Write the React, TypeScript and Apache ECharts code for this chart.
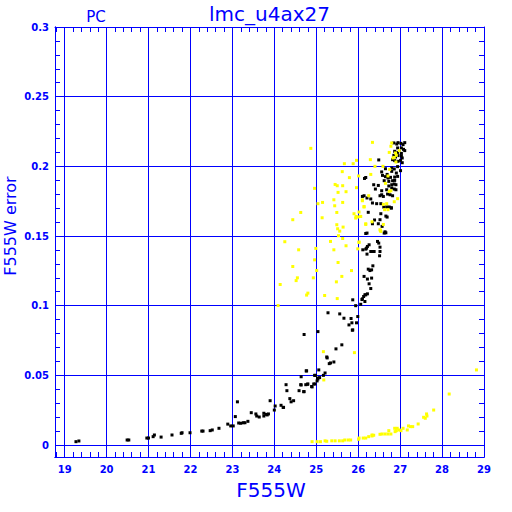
import React, { useEffect, useRef } from "react";
import * as echarts from "echarts";

const xTickLabels = [19, 20, 21, 22, 23, 24, 25, 26, 27, 28, 29];
const yTickLabels = [0, 0.05, 0.1, 0.15, 0.2, 0.25, 0.3];
const xRange = [18.77, 29];
const yRange = [-0.0086, 0.3];

const blackTail = [
  [19.27, 0.0024], [19.34, 0.0029], [20.49, 0.0036], [20.53, 0.0036], [20.96, 0.005], [21.0, 0.005],
  [21.11, 0.006], [21.14, 0.0072], [21.3, 0.0057], [21.56, 0.0072], [21.78, 0.0084], [21.8, 0.0088],
  [21.99, 0.0088], [22.27, 0.01], [22.3, 0.01], [22.47, 0.0103], [22.52, 0.0108], [22.68, 0.012],
  [22.89, 0.015], [22.96, 0.0137], [23.02, 0.0137], [23.07, 0.0204], [23.12, 0.031], [23.15, 0.0158],
  [23.2, 0.0156], [23.26, 0.016], [23.3, 0.016], [23.37, 0.017], [23.45, 0.0232], [23.56, 0.0223],
  [23.58, 0.0208], [23.64, 0.0201], [23.75, 0.0228], [23.75, 0.0208], [23.8, 0.022], [23.83, 0.0216],
  [23.86, 0.0223], [23.9, 0.0318], [24.0, 0.0251], [24.02, 0.028], [24.16, 0.0285], [24.21, 0.027],
  [24.22, 0.027], [24.28, 0.0433], [24.3, 0.039], [24.37, 0.0333], [24.4, 0.031], [24.46, 0.0318],
  [24.59, 0.039], [24.63, 0.0433], [24.64, 0.049], [24.7, 0.0383], [24.76, 0.0532], [24.75, 0.0433],
  [24.8, 0.0438], [24.89, 0.042], [24.94, 0.0438], [24.96, 0.05],
];

const blackRise = [
  [24.97, 0.0438], [24.79, 0.0436], [24.9, 0.0417], [24.64, 0.0431], [24.71, 0.0383],
  [25.03, 0.048], [25.04, 0.0474], [25.08, 0.0484], [25.02, 0.046], [25.06, 0.0539], [25.21, 0.0517],
  [25.17, 0.05], [24.98, 0.05], [24.77, 0.0532], [25.34, 0.0589], [25.31, 0.0584], [25.42, 0.0596],
  [25.25, 0.0632], [25.26, 0.0625], [25.47, 0.069], [25.61, 0.0719], [24.71, 0.0793], [25.04, 0.0814],
  [25.78, 0.0862], [25.85, 0.0877], [25.96, 0.0877], [25.87, 0.0826], [25.86, 0.0824], [25.28, 0.0949],
  [25.56, 0.0941], [25.66, 0.091], [25.83, 0.0908], [25.99, 0.0922], [25.87, 0.1042], [25.94, 0.1],
  [26.06, 0.101], [26.16, 0.103], [26.16, 0.1078], [26.18, 0.1078], [26.13, 0.1066], [26.09, 0.1044],
  [26.22, 0.1085], [26.1, 0.1049],
];

const blackTop = [
  [26.3, 0.1123], [26.26, 0.1157], [26.14, 0.121], [26.22, 0.1191], [26.32, 0.1198], [26.35, 0.1286],
  [26.28, 0.1252], [26.32, 0.1257], [26.24, 0.1262], [26.51, 0.1358], [26.21, 0.137], [26.3, 0.1389],
  [26.36, 0.1389], [26.38, 0.1389], [26.52, 0.1389], [26.11, 0.1401], [26.18, 0.1406], [26.2, 0.1413],
  [26.52, 0.142], [26.26, 0.1437], [26.22, 0.1425], [26.46, 0.1461], [26.49, 0.1449], [26.18, 0.1518],
  [26.21, 0.1521], [26.64, 0.153], [26.66, 0.1523], [26.62, 0.1521], [26.57, 0.1569], [26.34, 0.1588],
  [26.48, 0.1588], [26.39, 0.1615], [26.52, 0.1617], [26.66, 0.1643], [26.69, 0.1636], [26.54, 0.166],
  [26.24, 0.167], [26.61, 0.1708], [26.68, 0.1708], [26.74, 0.1708], [26.79, 0.1703], [26.44, 0.1732],
  [26.54, 0.1732], [26.34, 0.1737], [26.1, 0.1784], [26.14, 0.1789], [26.21, 0.1773], [26.3, 0.1766],
  [26.52, 0.1789], [26.56, 0.1796], [26.6, 0.1784], [26.7, 0.1801], [26.76, 0.1796], [26.82, 0.1789],
  [26.41, 0.1837], [26.68, 0.1832], [26.56, 0.1825], [26.8, 0.1845], [26.86, 0.1837], [26.9, 0.1832],
  [26.48, 0.1863], [26.73, 0.1859], [26.8, 0.1868], [26.86, 0.1873], [26.9, 0.1868], [26.37, 0.1868],
  [26.62, 0.1897], [26.73, 0.1892], [26.82, 0.1897], [26.87, 0.1899], [26.15, 0.1913], [26.18, 0.192],
  [26.65, 0.1926], [26.71, 0.1916], [26.77, 0.1921], [26.87, 0.1923], [26.94, 0.1928], [26.56, 0.196],
  [26.58, 0.1935], [26.69, 0.1942], [26.8, 0.1964], [26.91, 0.1952], [26.65, 0.1983], [26.8, 0.1988],
  [26.86, 0.1981], [26.94, 0.1998], [27.01, 0.1969], [26.49, 0.2046], [26.82, 0.2048], [26.87, 0.2041],
  [26.95, 0.2036], [27.01, 0.2043], [27.05, 0.2026], [26.85, 0.2079], [26.89, 0.2067], [26.95, 0.2077],
  [27.03, 0.2074], [27.05, 0.206], [26.87, 0.2108], [26.94, 0.21], [27.03, 0.2093], [26.94, 0.2132],
  [27.03, 0.2132], [27.08, 0.2122], [27.11, 0.2113], [26.85, 0.2168], [26.92, 0.216], [26.95, 0.217],
  [27.02, 0.2165], [27.07, 0.2156], [27.11, 0.217], [26.79, 0.17],
];

const yellowLow = [
  [24.9, 0.0024], [25.02, 0.0024], [25.1, 0.0024], [25.21, 0.003], [25.25, 0.0027], [25.37, 0.003],
  [25.45, 0.003], [25.55, 0.003], [25.63, 0.003], [25.68, 0.0036], [25.76, 0.0036], [25.82, 0.0036],
  [26.01, 0.0041], [26.02, 0.005], [26.12, 0.005], [26.18, 0.005], [26.25, 0.006], [26.33, 0.0065],
  [26.37, 0.007], [26.33, 0.0072], [26.52, 0.0077], [26.57, 0.0079], [26.64, 0.0079], [26.71, 0.0079],
  [26.78, 0.0079], [26.73, 0.0103], [26.88, 0.0096], [26.91, 0.0103], [26.87, 0.012], [26.93, 0.012],
  [26.98, 0.0108], [27.02, 0.0103], [27.07, 0.012], [27.17, 0.0108], [27.2, 0.0137], [27.25, 0.0132],
  [27.3, 0.0132], [27.43, 0.0151], [27.56, 0.0199], [27.6, 0.0192], [27.64, 0.0208], [27.63, 0.0223],
  [27.8, 0.0251], [28.17, 0.0366], [28.82, 0.0539], [25.18, 0.0467], [25.17, 0.067], [25.91, 0.0663],
];

const yellowCloud = [
  [24.87, 0.2129], [26.34, 0.2172], [25.67, 0.2019], [25.88, 0.2019], [25.96, 0.2043], [26.29, 0.2048],
  [25.62, 0.1962], [25.79, 0.1919], [26.01, 0.1931], [26.3, 0.1942], [26.4, 0.2], [26.59, 0.2],
  [24.96, 0.1842], [25.45, 0.187], [25.5, 0.1861], [25.63, 0.1861], [25.52, 0.1813], [25.71, 0.1818],
  [25.96, 0.1847], [25.04, 0.1732], [25.15, 0.1741], [25.42, 0.176], [25.63, 0.1741], [25.44, 0.1717],
  [26.1, 0.176], [26.25, 0.1789], [24.63, 0.1669], [24.44, 0.1617], [25.49, 0.1669], [25.14, 0.1631],
  [25.9, 0.166], [25.99, 0.1636], [26.05, 0.1641], [25.94, 0.1629], [26.14, 0.1708], [26.63, 0.1689],
  [26.71, 0.1689], [26.86, 0.1746], [25.49, 0.1581], [25.64, 0.1564], [25.51, 0.1552], [26.18, 0.1583],
  [26.6, 0.1583], [26.53, 0.154], [25.56, 0.1535], [25.53, 0.1502], [25.63, 0.1482], [26.02, 0.1454],
  [25.34, 0.1461], [25.42, 0.1401], [25.71, 0.143], [24.99, 0.1411], [24.25, 0.1459], [24.58, 0.1401],
  [24.96, 0.1329], [24.44, 0.1281], [25.01, 0.1252], [25.52, 0.131], [25.84, 0.1252], [25.61, 0.121],
  [25.48, 0.1171], [24.55, 0.12], [24.52, 0.118], [24.93, 0.12], [24.14, 0.1152], [24.8, 0.109],
  [24.77, 0.1076], [25.2, 0.1073], [25.5, 0.1051], [24.09, 0.1001], [26.8, 0.2168], [26.78, 0.2144],
  [26.74, 0.21], [26.89, 0.2096], [26.91, 0.2079], [26.98, 0.2113], [26.83, 0.206], [26.86, 0.2064],
  [26.9, 0.2031], [26.71, 0.1931], [26.75, 0.1978], [26.65, 0.1878], [26.74, 0.182], [26.78, 0.1825],
  [26.94, 0.1768], [26.1, 0.1753], [26.14, 0.1712], [26.02, 0.1672], [26.06, 0.164], [25.95, 0.164],
  [26.6, 0.1727], [26.68, 0.1732], [26.18, 0.1588], [26.33, 0.1602], [26.52, 0.1545], [26.54, 0.1533],
  [26.02, 0.1457], [25.99, 0.1408],
];

const BLUE = "#0000ff";
const FONT = '"DejaVu Sans", sans-serif';

const xMinor: number[] = [];
for (let i = 0; i <= 51; i++) xMinor.push(+(18.8 + i * 0.2).toFixed(1));
const yMinor: number[] = [];
for (let i = 0; i <= 30; i++) yMinor.push(+(i / 100).toFixed(2));

export default function App() {
  const ref = useRef<HTMLDivElement>(null);
  useEffect(() => {
    const chart = echarts.init(ref.current!, null, { renderer: "svg" });
    const line = { show: true, onZero: false, lineStyle: { color: BLUE, width: 1 } };
    const minorX = (pos: string) => ({
      type: "value", min: xRange[0], max: xRange[1], position: pos, gridIndex: 0,
      axisLine: line,
      axisTick: { show: true, inside: true, length: 5, customValues: xMinor, lineStyle: { color: BLUE } },
      axisLabel: { show: false }, splitLine: { show: false },
    });
    const minorY = (pos: string) => ({
      type: "value", min: yRange[0], max: yRange[1], position: pos, gridIndex: 0,
      axisLine: line,
      axisTick: { show: true, inside: true, length: 5, customValues: yMinor, lineStyle: { color: BLUE } },
      axisLabel: { show: false }, splitLine: { show: false },
    });
    const dot = (color: string) => ({ color, opacity: 1 });
    chart.setOption({
      animation: false,
      grid: { left: 55, right: 28, top: 27, bottom: 55, containLabel: false },
      xAxis: [
        {
          type: "value", min: xRange[0], max: xRange[1], position: "bottom",
          axisLine: line,
          axisTick: { show: false, customValues: xTickLabels },
          axisLabel: {
            customValues: xTickLabels, color: BLUE, fontFamily: FONT, fontSize: 10,
            fontWeight: "bold", margin: 7,
          },
          splitLine: { show: true, lineStyle: { color: BLUE, width: 1 } },
        },
        minorX("bottom"),
        minorX("top"),
      ],
      yAxis: [
        {
          type: "value", min: yRange[0], max: yRange[1], position: "left",
          axisLine: line,
          axisTick: { show: false, customValues: yTickLabels },
          axisLabel: {
            customValues: yTickLabels, color: BLUE, fontFamily: FONT, fontSize: 10,
            fontWeight: "bold", margin: 6,
          },
          splitLine: { show: true, lineStyle: { color: BLUE, width: 1 } },
        },
        minorY("left"),
        minorY("right"),
      ],
      graphic: [
        { type: "text", x: 269.5, y: 14, style: { text: "lmc_u4ax27", fill: BLUE, fontFamily: FONT, fontSize: 20, align: "center", verticalAlign: "middle" } },
        { type: "text", x: 96, y: 17, style: { text: "PC", fill: BLUE, fontFamily: FONT, fontSize: 15, align: "center", verticalAlign: "middle" } },
        { type: "text", x: 271, y: 490, style: { text: "F555W", fill: BLUE, fontFamily: FONT, fontSize: 20, align: "center", verticalAlign: "middle" } },
        { type: "text", x: 10, y: 226, rotation: Math.PI / 2, style: { text: "F555W error", fill: BLUE, fontFamily: FONT, fontSize: 16, align: "center", verticalAlign: "middle" } },
      ],
      series: [
        { type: "scatter", name: "tail", data: blackTail, symbol: "rect", symbolSize: 3, itemStyle: dot("#000000"), xAxisIndex: 0, yAxisIndex: 0 },
        { type: "scatter", name: "rise", data: blackRise, symbol: "rect", symbolSize: 3, itemStyle: dot("#000000"), xAxisIndex: 0, yAxisIndex: 0 },
        { type: "scatter", name: "top", data: blackTop, symbol: "rect", symbolSize: 3, itemStyle: dot("#000000"), xAxisIndex: 0, yAxisIndex: 0 },
        { type: "scatter", name: "low", data: yellowLow, symbol: "rect", symbolSize: 3, itemStyle: dot("#ffff00"), xAxisIndex: 0, yAxisIndex: 0 },
        { type: "scatter", name: "cloud", data: yellowCloud, symbol: "rect", symbolSize: 3, itemStyle: dot("#ffff00"), xAxisIndex: 0, yAxisIndex: 0 },
      ],
    });
    return () => chart.dispose();
  }, []);
  return <div ref={ref} style={{ width: 512, height: 512, position: "absolute", left: 0, top: 0 }} />;
}
